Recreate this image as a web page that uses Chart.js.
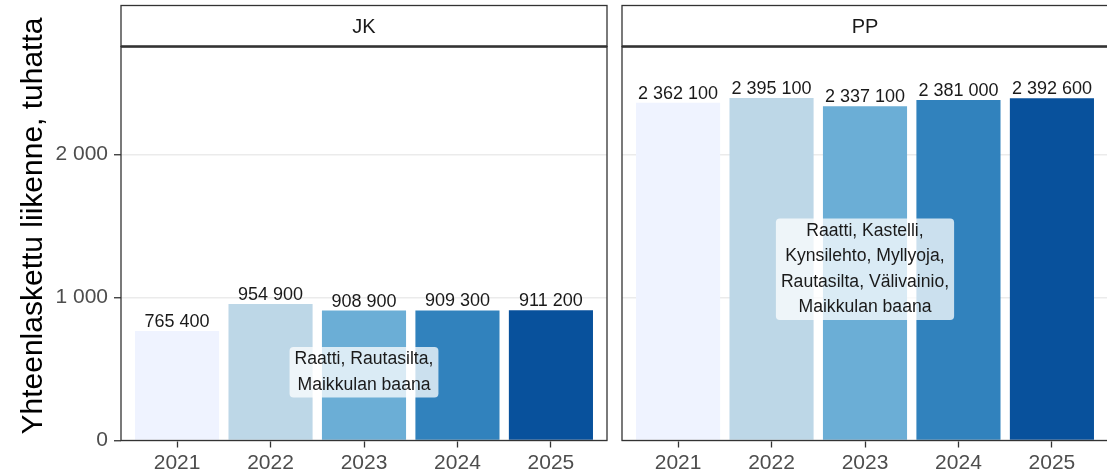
<!DOCTYPE html>
<html>
<head>
<meta charset="utf-8">
<script src="https://cdn.jsdelivr.net/npm/chart.js@4"></script>
<style>
  html, body { margin:0; padding:0; background:#ffffff; }
  #wrap { position:relative; width:1107px; height:475px; overflow:hidden; background:#ffffff; }
  canvas { position:absolute; top:0; }
</style>
</head>
<body>
<div id="wrap">
  <canvas id="jk" width="615" height="475" style="left:0px"></canvas>
  <canvas id="pp" width="500" height="475" style="left:615px"></canvas>
</div>
<script>
// ---- data ----
const years = ['2021', '2022', '2023', '2024', '2025'];
const jkValues = [765400, 954900, 908900, 909300, 911200];
const ppValues = [2362100, 2395100, 2337100, 2381000, 2392600];
const barColors = ['#EFF3FF', '#BDD7E7', '#6BAED6', '#3182BD', '#08519C'];
const panelTitles = ['JK', 'PP'];
const jkNote = ['Raatti, Rautasilta,', 'Maikkulan baana'];
const ppNote = ['Raatti, Kastelli,', 'Kynsilehto, Myllyoja,', 'Rautasilta, Välivainio,', 'Maikkulan baana'];
const yTicks = [0, 1000, 2000];
const yTitle = 'Yhteenlaskettu liikenne, tuhatta';

const FONT = '"Liberation Sans", Arial, Helvetica, sans-serif';
function fmt(n) {
  return String(Math.round(n)).replace(/\B(?=(\d{3})+(?!\d))/g, ' ');
}

function roundRect(ctx, x, y, w, h, r) {
  ctx.beginPath();
  ctx.moveTo(x + r, y);
  ctx.lineTo(x + w - r, y);
  ctx.quadraticCurveTo(x + w, y, x + w, y + r);
  ctx.lineTo(x + w, y + h - r);
  ctx.quadraticCurveTo(x + w, y + h, x + w - r, y + h);
  ctx.lineTo(x + r, y + h);
  ctx.quadraticCurveTo(x, y + h, x, y + h - r);
  ctx.lineTo(x, y + r);
  ctx.quadraticCurveTo(x, y, x + r, y);
  ctx.closePath();
}

const panelPlugin = {
  id: 'panelPlugin',
  afterDatasetsDraw(chart, args, opts) {
    const ctx = chart.ctx;
    const ca = chart.chartArea;
    const meta = chart.getDatasetMeta(0);
    ctx.save();
    // value labels
    ctx.font = '18px ' + FONT;
    ctx.fillStyle = '#1a1a1a';
    ctx.textAlign = 'center';
    ctx.textBaseline = 'alphabetic';
    meta.data.forEach((bar, i) => {
      ctx.fillText(fmt(opts.values[i]), bar.x, bar.y - 4);
    });
    // annotation label
    const lines = opts.note;
    ctx.font = '17.6px ' + FONT;
    const lh = 25.5;
    let maxW = 0;
    lines.forEach(l => { maxW = Math.max(maxW, ctx.measureText(l).width); });
    const cx = chart.scales.x.getPixelForValue((years.length + 1) / 2);
    const cy = chart.scales.y.getPixelForValue(Math.max(...opts.values) / 2000);
    const bw = maxW + 10;
    const bh = (lines.length - 1) * lh + 25;
    ctx.fillStyle = 'rgba(255,255,255,0.75)';
    roundRect(ctx, cx - bw / 2, cy - bh / 2, bw, bh, 4);
    ctx.fill();
    ctx.fillStyle = '#1a1a1a';
    ctx.textBaseline = 'middle';
    lines.forEach((l, i) => {
      ctx.fillText(l, cx, cy - bh / 2 + 12.5 + i * lh);
    });
    // panel border
    ctx.strokeStyle = '#333333';
    ctx.lineWidth = 1.3;
    ctx.strokeRect(ca.left, ca.top, ca.right - ca.left, ca.bottom - ca.top);
    // strip
    ctx.fillStyle = '#ffffff';
    ctx.fillRect(ca.left, 5.5, ca.right - ca.left, ca.top - 5.5);
    ctx.strokeRect(ca.left, 5.5, ca.right - ca.left, ca.top - 5.5);
    ctx.lineWidth = 2.6;
    ctx.beginPath();
    ctx.moveTo(ca.left, ca.top);
    ctx.lineTo(ca.right, ca.top);
    ctx.stroke();
    ctx.fillStyle = '#1a1a1a';
    ctx.font = '20px ' + FONT;
    ctx.textBaseline = 'middle';
    ctx.fillText(opts.title, (ca.left + ca.right) / 2, (5.5 + ca.top) / 2 + 1);
    // y title
    if (opts.showYTitle) {
      ctx.save();
      ctx.translate(42, 226);
      ctx.rotate(-Math.PI / 2);
      ctx.font = '30px ' + FONT;
      ctx.fillStyle = '#000000';
      ctx.textAlign = 'center';
      ctx.textBaseline = 'alphabetic';
      ctx.fillText(yTitle, 0, 0);
      ctx.restore();
    }
    ctx.restore();
  }
};

function makeChart(id, values, title, note, isLeft) {
  return new Chart(document.getElementById(id), {
    type: 'bar',
    data: {
      datasets: [{
        data: values.map((v, i) => ({ x: i + 1, y: v / 1000 })),
        backgroundColor: barColors,
        borderWidth: 0,
        barPercentage: 0.9,
        categoryPercentage: 1
      }]
    },
    options: {
      responsive: false,
      animation: false,
      layout: { padding: { top: 46.5, right: isLeft ? 8 : 7, left: 0, bottom: 0 } },
      plugins: {
        legend: { display: false },
        tooltip: { enabled: false },
        panelPlugin: { values: values, title: title, note: note, showYTitle: isLeft }
      },
      scales: {
        x: {
          type: 'linear',
          min: 0.4,
          max: 5.6,
          offset: false,
          afterBuildTicks: s => { s.ticks = years.map((_, i) => ({ value: i + 1 })); },
          afterFit: s => { s.height = 34.5; },
          ticks: {
            callback: v => years[v - 1],
            font: { family: FONT, size: 21 },
            color: '#4d4d4d',
            padding: 3,
            maxRotation: 0,
            autoSkip: false
          },
          grid: { offset: false, drawOnChartArea: false, drawTicks: true, tickLength: 7, tickColor: '#333333', tickWidth: 1.3 },
          border: { display: false }
        },
        y: {
          min: 0,
          max: 2755,
          afterBuildTicks: s => { s.ticks = yTicks.map(v => ({ value: v })); },
          afterFit: s => { s.width = isLeft ? 121 : 7; },
          ticks: {
            display: isLeft,
            callback: v => fmt(v),
            font: { family: FONT, size: 21 },
            color: '#4d4d4d',
            padding: 6
          },
          grid: { color: '#EBEBEB', lineWidth: 1.5, drawTicks: isLeft, tickLength: 7, tickColor: '#333333', tickWidth: 1.3 },
          border: { display: false }
        }
      }
    },
    plugins: [panelPlugin]
  });
}

makeChart('jk', jkValues, panelTitles[0], jkNote, true);
makeChart('pp', ppValues, panelTitles[1], ppNote, false);
</script>
</body>
</html>
